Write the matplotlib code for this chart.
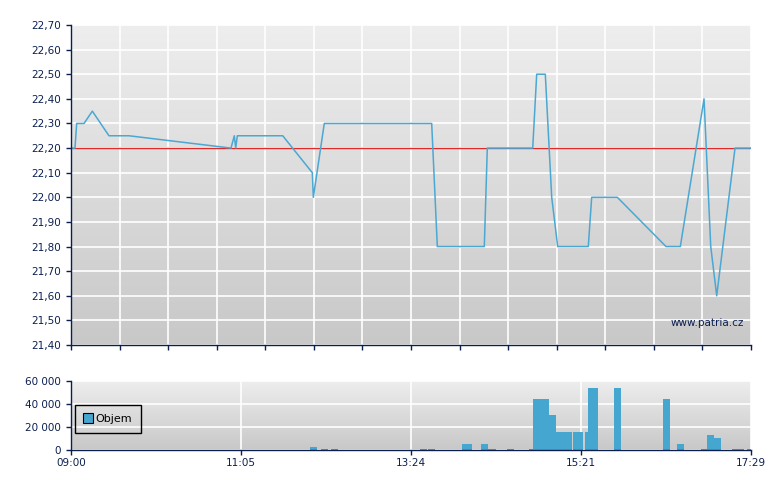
import numpy as np
import matplotlib
matplotlib.use("Agg")
import matplotlib.pyplot as plt
from matplotlib.ticker import FuncFormatter, MultipleLocator
from matplotlib.lines import Line2D
from matplotlib.colors import LinearSegmentedColormap

# ---- data (x in trading-slot units, 0 = 09:00, 14 = 17:29) ----
price_x = [0, 0.082, 0.117, 0.268, 0.439, 0.782, 1.194, 3.294, 3.362, 3.391, 3.424,
           4.359, 4.968, 4.989, 5.215, 7.426, 7.542, 8.509, 8.571, 9.506, 9.588,
           9.765, 9.897, 10.020, 10.650, 10.720, 11.248, 12.250, 12.545, 13.033,
           13.171, 13.294, 13.671, 14.0]
price_y = [22.20, 22.20, 22.30, 22.30, 22.35, 22.25, 22.25, 22.20, 22.25, 22.20, 22.25,
           22.25, 22.10, 22.00, 22.30, 22.30, 21.80, 21.80, 22.20, 22.20, 22.50,
           22.50, 22.00, 21.80, 21.80, 22.00, 22.00, 21.80, 21.80, 22.40,
           21.80, 21.60, 22.20, 22.20]
prev_close = 22.20

vol_start = [4.921, 5.147, 5.353, 7.185, 7.350, 8.050, 8.441, 8.585, 8.976, 9.429,
             9.512, 9.841, 9.985, 10.335, 10.582, 10.644, 11.179, 12.188, 12.476,
             12.970, 13.094, 13.238, 13.609, 13.918]
vol_end = [5.065, 5.291, 5.497, 7.329, 7.494, 8.256, 8.585, 8.750, 9.121, 9.512,
           9.841, 9.985, 10.315, 10.541, 10.644, 10.850, 11.324, 12.332, 12.621,
           13.094, 13.238, 13.382, 13.856, 14.0]
vol_val = [2600, 1000, 1000, 1000, 1000, 5200, 5200, 1000, 1000, 1000,
           44200, 30300, 15600, 15600, 15600, 53800, 53800, 44200, 5200,
           1000, 13000, 10400, 1000, 1000]

time_ticks = [0, 3.5, 7, 10.5, 14]
time_labels = ["09:00", "11:05", "13:24", "15:21", "17:29"]

# ---- style ----
NAVY = "#0b1f4f"
LINE = "#4aa8d2"
BAR = "#45a6d0"
plt.rcParams["font.family"] = ["DejaVu Sans"]
plt.rcParams["font.size"] = 7

fig = plt.figure(figsize=(7.8, 4.9), dpi=100)
W, H = 780, 490
ax1 = fig.add_axes([71 / W, 1 - 345 / H, 680 / W, 320 / H])
ax2 = fig.add_axes([71 / W, 1 - 450 / H, 680 / W, 69.3 / H])

grad = np.linspace(0, 1, 256).reshape(-1, 1)
cmap = LinearSegmentedColormap.from_list("bg", ["#eeeeee", "#c8c8c8"])

for ax in (ax1, ax2):
    ax.imshow(grad, cmap=cmap, aspect="auto", extent=[0, 1, 0, 1], origin="upper",
              transform=ax.transAxes, zorder=0, interpolation="bilinear")
    for s in ("top", "right"):
        ax.spines[s].set_visible(False)
    for s in ("left", "bottom"):
        ax.spines[s].set_color(NAVY)
        ax.spines[s].set_linewidth(1.0)
        ax.spines[s].set_zorder(5)
    ax.tick_params(colors=NAVY, labelcolor=NAVY, direction="out", length=3.5,
                   width=1.0, labelsize=7.5)
    ax.set_xlim(0, 14)

# ---- price panel ----
ax1.set_ylim(21.40, 22.70)
ax1.yaxis.set_major_locator(MultipleLocator(0.1))
ax1.yaxis.set_major_formatter(FuncFormatter(lambda v, p: f"{v:.2f}".replace(".", ",")))
ax1.set_xticks(np.arange(0, 15, 1))
ax1.set_xticklabels([])
ax1.grid(True, color="white", linewidth=1.2, zorder=1)
ax1.set_axisbelow(True)
ax1.axhline(prev_close, color="#e02a2a", linewidth=1.0, zorder=3)
ax1.plot(price_x, price_y, color=LINE, linewidth=1.1, zorder=4)
ax1.text(0.99, 0.07, "www.patria.cz", transform=ax1.transAxes, ha="right",
         va="center", color=NAVY, fontsize=7.5, zorder=6)

# ---- volume panel ----
ax2.set_ylim(0, 60000)
ax2.set_yticks([0, 20000, 40000, 60000])
ax2.yaxis.set_major_formatter(FuncFormatter(lambda v, p: f"{int(v):,}".replace(",", " ")))
ax2.set_xticks(time_ticks)
ax2.set_xticklabels(time_labels)
ax2.grid(True, color="white", linewidth=1.2, zorder=1)
ax2.set_axisbelow(True)
widths = [e - s for s, e in zip(vol_start, vol_end)]
ax2.bar(vol_start, vol_val, width=widths, align="edge", color=BAR,
        edgecolor="none", zorder=3)
ax2.tick_params(axis="x", pad=2)
handle = Line2D([], [], marker="s", linestyle="none", markersize=6.5,
                markerfacecolor=BAR, markeredgecolor="black", markeredgewidth=0.8)
leg = ax2.legend([handle], ["Objem"], loc="center left", bbox_to_anchor=(0.006, 0.447),
                 frameon=True, fancybox=False, fontsize=8, handlelength=0.7,
                 handletextpad=0.3, borderpad=0.8, borderaxespad=0)
frame = leg.get_frame()
frame.set_facecolor("none")
frame.set_edgecolor("black")
frame.set_alpha(None)
frame.set_linewidth(1.0)
leg.set_zorder(6)
for t in leg.get_texts():
    t.set_color("black")

fig.savefig("out.png", dpi=100)
